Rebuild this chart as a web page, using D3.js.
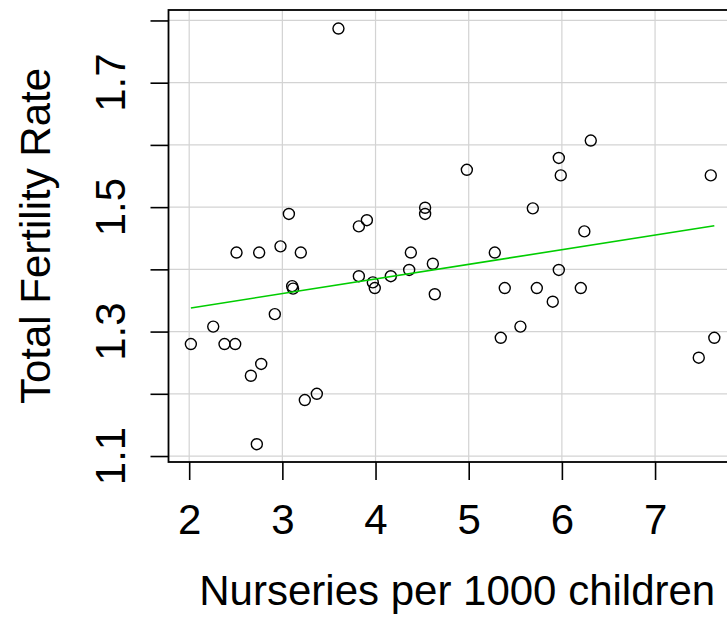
<!DOCTYPE html>
<html>
<head>
<meta charset="utf-8">
<script src="https://cdn.jsdelivr.net/npm/d3@7"></script>
<style>
  html, body { margin: 0; padding: 0; background: #ffffff; }
  svg { display: block; }
  text { font-family: "Liberation Sans", Arial, Helvetica, sans-serif; fill: #000; }
</style>
</head>
<body>
<svg id="chart" width="727" height="618"></svg>
<script>
// Nurseries per 1000 children vs. total fertility rate, one point per prefecture
const nurseries = [
  3.602, 3.070, 2.508, 2.751, 2.980, 3.198, 3.105, 3.115, 2.919, 2.258,
  2.018, 2.379, 2.494, 2.773, 2.662, 3.241, 3.370, 2.726, 5.967, 5.988,
  4.980, 4.532, 4.532, 5.688, 3.907, 3.821, 6.241, 6.310, 7.598, 4.379,
  5.280, 3.821, 3.971, 3.992, 4.164, 4.361, 4.615, 4.636, 5.387, 5.731,
  5.967, 5.902, 5.555, 5.344, 6.203, 7.636, 7.469
];
const fertility = [
  1.787, 1.489, 1.427, 1.427, 1.437, 1.427, 1.373, 1.369, 1.328, 1.308,
  1.280, 1.280, 1.280, 1.248, 1.229, 1.190, 1.200, 1.119, 1.579, 1.551,
  1.560, 1.499, 1.489, 1.498, 1.479, 1.469, 1.461, 1.607, 1.551, 1.427,
  1.427, 1.389, 1.379, 1.370, 1.389, 1.399, 1.409, 1.360, 1.370, 1.370,
  1.399, 1.348, 1.308, 1.290, 1.370, 1.290, 1.258
];

// Fitted trend line, from the smallest to the largest x
const fitX = [2.018, 7.636];
const fitY = [1.338, 1.470];

// Axis limits and ticks
const xLimits = [1.778, 7.976];
const yLimits = [1.0904, 1.8168];
const xTicks = [2, 3, 4, 5, 6, 7];
const yTicks = [1.1, 1.2, 1.3, 1.4, 1.5, 1.6, 1.7, 1.8];
const yTickLabels = [1.1, 1.3, 1.5, 1.7];

const xTitle = "Nurseries per 1000 children";
const yTitle = "Total Fertility Rate";

const plot = { left: 168.5, right: 746, top: 10, bottom: 462 };
const fontSize = 42;

const svg = d3.select("#chart");

const x = d3.scaleLinear().domain(xLimits).range([plot.left, plot.right]);
const y = d3.scaleLinear().domain(yLimits).range([plot.bottom, plot.top]);

// Background grid
const grid = svg.append("g").attr("stroke", "#d3d3d3").attr("stroke-width", 1.2);
grid.selectAll("line.gx").data(xTicks).join("line")
  .attr("class", "gx")
  .attr("x1", d => x(d)).attr("x2", d => x(d))
  .attr("y1", plot.top).attr("y2", plot.bottom);
grid.selectAll("line.gy").data(yTicks).join("line")
  .attr("class", "gy")
  .attr("x1", plot.left).attr("x2", plot.right)
  .attr("y1", d => y(d)).attr("y2", d => y(d));

// Points
svg.append("g")
  .selectAll("circle")
  .data(d3.range(nurseries.length))
  .join("circle")
  .attr("cx", i => x(nurseries[i]))
  .attr("cy", i => y(fertility[i]))
  .attr("r", 5.5)
  .attr("fill", "none")
  .attr("stroke", "#000")
  .attr("stroke-width", 1.4);

// Trend line
svg.append("path")
  .datum(d3.zip(fitX, fitY))
  .attr("fill", "none")
  .attr("stroke", "#00cd00")
  .attr("stroke-width", 1.6)
  .attr("d", d3.line().x(d => x(d[0])).y(d => y(d[1])));

// Plot frame
svg.append("rect")
  .attr("x", plot.left).attr("y", plot.top)
  .attr("width", plot.right - plot.left).attr("height", plot.bottom - plot.top)
  .attr("fill", "none").attr("stroke", "#000").attr("stroke-width", 1.8);

// Bottom axis
const xAxis = d3.axisBottom(x).tickValues(xTicks).tickSize(18).tickPadding(22).tickFormat(d3.format("d"));
const gx = svg.append("g").attr("transform", `translate(0,${plot.bottom})`).call(xAxis);
gx.select(".domain").remove();
gx.selectAll(".tick line").attr("stroke", "#000").attr("stroke-width", 1.6);
gx.selectAll(".tick text")
  .attr("font-size", fontSize)
  .attr("font-family", "Liberation Sans, Arial, sans-serif")
  .attr("dy", null)
  .attr("y", 534 - plot.bottom);

// Left axis (labels drawn parallel to the axis)
const yAxis = d3.axisLeft(y).tickValues(yTicks).tickSize(18).tickFormat("");
const gy = svg.append("g").attr("transform", `translate(${plot.left},0)`).call(yAxis);
gy.select(".domain").remove();
gy.selectAll(".tick line").attr("stroke", "#000").attr("stroke-width", 1.6);

svg.append("g")
  .selectAll("text")
  .data(yTickLabels)
  .join("text")
  .attr("transform", d => `translate(125,${y(d)}) rotate(-90)`)
  .attr("text-anchor", "middle")
  .attr("font-size", fontSize)
  .text(d => d3.format(".1f")(d));

// Axis titles
svg.append("text")
  .attr("x", (plot.left + plot.right) / 2)
  .attr("y", 605)
  .attr("text-anchor", "middle")
  .attr("font-size", fontSize)
  .text(xTitle);

svg.append("text")
  .attr("transform", `translate(50,${(plot.top + plot.bottom) / 2}) rotate(-90)`)
  .attr("text-anchor", "middle")
  .attr("font-size", fontSize)
  .text(yTitle);
</script>
</body>
</html>
